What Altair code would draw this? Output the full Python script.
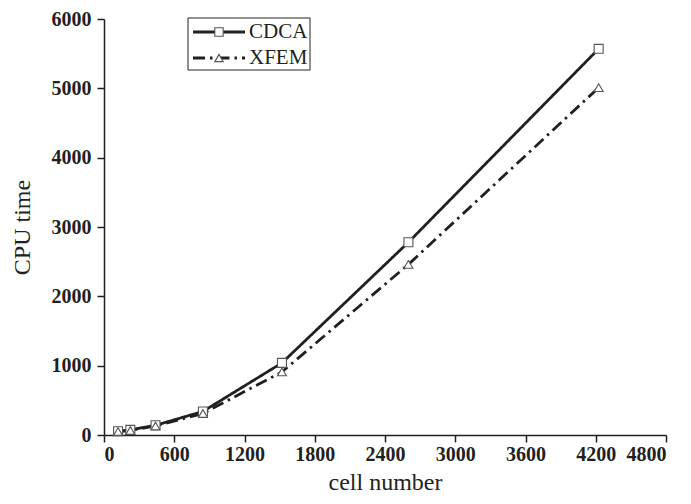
import altair as alt
import pandas as pd

# ---- data ----
cells = [120, 225, 440, 845, 1520, 2600, 4225]
cdca = [55, 75, 140, 340, 1040, 2780, 5570]
xfem = [50, 65, 130, 310, 910, 2460, 5010]
series = ["CDCA", "XFEM"]
x_ticks = [0, 600, 1200, 1800, 2400, 3000, 3600, 4200, 4800]
y_ticks = [0, 1000, 2000, 3000, 4000, 5000, 6000]

df = pd.DataFrame({
    "cells": cells + cells,
    "time": cdca + xfem,
    "series": [series[0]] * len(cells) + [series[1]] * len(cells),
})
leg_df = pd.DataFrame({"series": series})

INK = "#231f20"
SERIF = "Liberation Serif"

dash = alt.StrokeDash("series:N",
                      scale=alt.Scale(domain=series, range=[[1, 0], [12, 5, 2.5, 5]]),
                      legend=None)
shape = alt.Shape("series:N",
                  scale=alt.Scale(domain=series, range=["square", "triangle-up"]),
                  legend=None)

x_enc = alt.X("cells:Q",
              scale=alt.Scale(domain=[0, 4800], nice=False, zero=True),
              axis=alt.Axis(values=x_ticks, title="cell number", format="d",
                            labelPadding=2, titlePadding=6))
y_enc = alt.Y("time:Q",
              scale=alt.Scale(domain=[0, 6000], nice=False),
              axis=alt.Axis(values=y_ticks, title="CPU time", format="d",
                            labelPadding=6, titlePadding=17))

base = alt.Chart(df)
lines = base.mark_line(strokeWidth=2.8, color=INK).encode(x=x_enc, y=y_enc, strokeDash=dash)
points = base.mark_point(filled=True, color="white", stroke="#555555",
                         strokeWidth=1.1, size=80, opacity=1).encode(
    x=x_enc, y=y_enc, shape=shape)
main = alt.layer(lines, points)

# ---- legend box drawn inside the plot ----
leg_y = alt.Y("series:N",
              scale=alt.Scale(type="point", domain=series, range=[13, 39], padding=0),
              axis=None)
leg_box = alt.Chart(pd.DataFrame({"k": [0]})).mark_rect(
    fill="white", stroke="#222222", strokeWidth=1).encode(
    x=alt.value(84), x2=alt.value(206), y=alt.value(-1), y2=alt.value(51))
leg_rule = alt.Chart(leg_df).mark_rule(strokeWidth=2.8, color=INK).encode(
    x=alt.value(89), x2=alt.value(141), y=leg_y, strokeDash=dash)
leg_pt = alt.Chart(leg_df).mark_point(filled=True, color="white", stroke="#555555",
                                      strokeWidth=1.1, size=70, opacity=1).encode(
    x=alt.value(115), y=leg_y, shape=shape)
leg_txt = alt.Chart(leg_df).mark_text(align="left", baseline="middle", font=SERIF,
                                      fontSize=21, color=INK).encode(
    x=alt.value(145), y=leg_y, text="series:N")
legend = alt.layer(leg_box, leg_rule, leg_pt, leg_txt)

chart = alt.layer(main, legend).resolve_scale(y="independent").properties(
    width=562, height=416,
    autosize=alt.AutoSizeParams(type="none"),
    padding={"left": 96, "top": 11, "right": 17, "bottom": 61},
    background="white",
).configure_view(stroke=None).configure_axis(
    grid=False,
    domainColor=INK, domainWidth=1.5,
    tickColor=INK, tickWidth=1.5, tickSize=7,
    labelFont=SERIF, labelFontSize=20, labelFontWeight="bold", labelColor=INK,
    titleFont=SERIF, titleFontSize=24, titleFontWeight="normal", titleColor=INK,
)

chart.save("out.html", embed_options={"renderer": "svg", "actions": False})
